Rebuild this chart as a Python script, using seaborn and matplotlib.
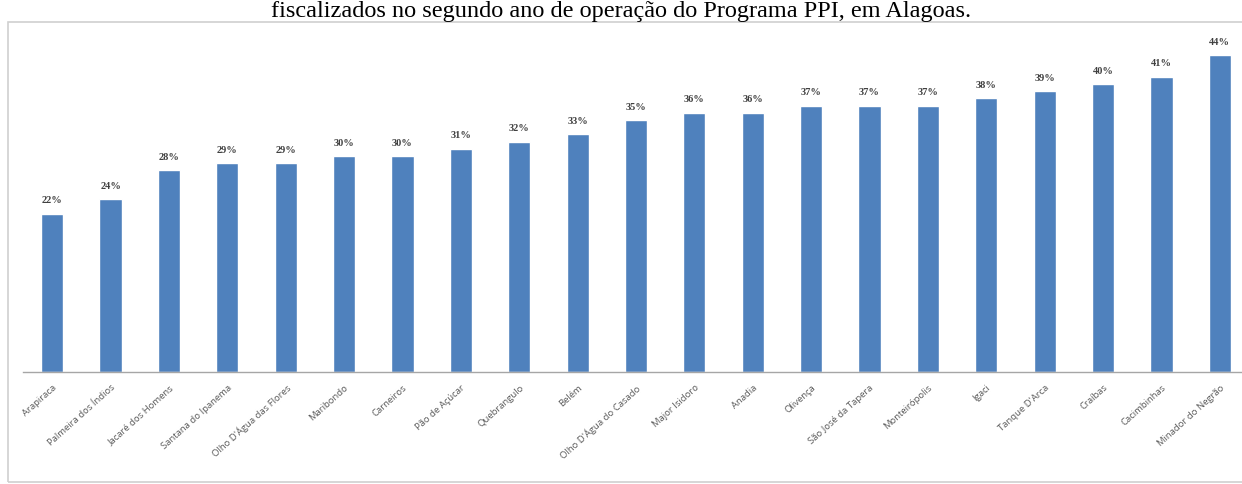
import matplotlib
matplotlib.use("Agg")
import matplotlib.pyplot as plt
import seaborn as sns
import pandas as pd
from matplotlib.patches import Rectangle

municipios = [
    "Arapiraca", "Palmeira dos Índios", "Jacaré dos Homens", "Santana do Ipanema",
    "Olho D'Água das Flores", "Maribondo", "Carneiros", "Pão de Açúcar",
    "Quebrangulo", "Belém", "Olho D'Água do Casado", "Major Isidoro", "Anadia",
    "Olivença", "São José da Tapera", "Monteirópolis", "Igaci", "Tanque D'Arca",
    "Craíbas", "Cacimbinhas", "Minador do Negrão",
]
percentuais = [22, 24, 28, 29, 29, 30, 30, 31, 32, 33, 35, 36, 36, 37, 37, 37, 38, 39, 40, 41, 44]
rotulos = [f"{v}%" for v in percentuais]
titulo = "fiscalizados no segundo ano de operação do Programa PPI, em Alagoas."

df = pd.DataFrame({"municipio": municipios, "pct": percentuais})

sns.set_theme(style="white")
W, H = 1242, 484
fig = plt.figure(figsize=(W / 100, H / 100), dpi=100)
fig.patch.set_facecolor("white")

# outer chart frame
fig.patches.append(Rectangle((8 / W, 2 / H), 1.2, (462 - 2) / H, transform=fig.transFigure,
                             fill=False, edgecolor="#d0d0d0", linewidth=1.2, zorder=0))

left = 23 / W
right = 1249 / W
bottom = (H - 372) / H
top = (H - 26.4) / H
ax = fig.add_axes([left, bottom, right - left, top - bottom])
ax.set_facecolor("none")

sns.barplot(data=df, x="municipio", y="pct", color="#4f81bd", width=0.38,
            saturation=1, ax=ax)

ax.set_xlim(-0.5, len(municipios) - 0.5)
ax.set_ylim(0, 48)
for i, (v, lab) in enumerate(zip(percentuais, rotulos)):
    ax.annotate(lab, (i, v), xytext=(0, 6), textcoords="offset points",
                ha="center", va="bottom", fontsize=7.5, fontweight="bold",
                family="Liberation Serif", color="#404040")

ax.set_xlabel("")
ax.set_ylabel("")
ax.set_yticks([])
for s in ["top", "right", "left"]:
    ax.spines[s].set_visible(False)
ax.spines["bottom"].set_color("#a6a6a6")
ax.spines["bottom"].set_linewidth(1)
ax.tick_params(axis="x", length=0, pad=8)
ax.set_xticks(range(len(municipios)))
ax.set_xticklabels(municipios, rotation=42, ha="right", rotation_mode="anchor",
                   fontsize=6.8, color="#595959", family="Open Sans")

fig.text(0.5, (H - 17) / H, titulo, ha="center", va="baseline", fontsize=17.5,
         family="Liberation Serif", color="black")

fig.savefig("out.png", dpi=100, facecolor="white")
